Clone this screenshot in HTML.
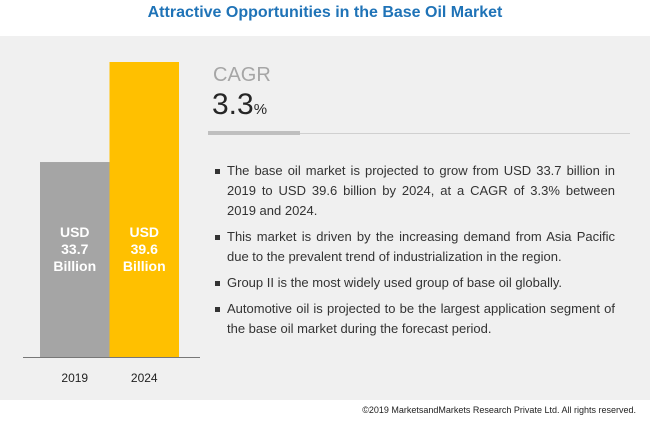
<!DOCTYPE html>
<html><head><meta charset="utf-8"><style>
body{margin:0;width:650px;height:435px;background:#fff;font-family:"Liberation Sans",sans-serif;position:relative;overflow:hidden}
.title{position:absolute;top:4px;left:0;width:650px;text-align:center;color:#1f73b7;font-weight:bold;font-size:16px}
.bg{position:absolute;top:36px;left:0;width:650px;height:364px;background:#f0f0f0}
.cagr{position:absolute;left:213px;top:64px;font-size:20px;color:#a6a6a6;font-family:"Liberation Sans Narrow","Liberation Sans",sans-serif}
.val{position:absolute;left:212px;top:88px;font-size:30px;color:#262626}
.val span{font-size:15px}
.line1{position:absolute;left:208px;top:131px;width:92px;height:4px;background:#bfbfbf}
.line2{position:absolute;left:300px;top:133px;width:330px;height:1px;background:#d0d0d0}
ul{position:absolute;left:213px;top:161px;width:402px;margin:0;padding:0;list-style:none;font-size:13px;color:#333;line-height:20px}
li{position:relative;padding-left:14px;text-align:justify;margin-bottom:6px}
li:before{content:"";position:absolute;left:2px;top:8px;width:5px;height:5px;background:#333}
.copy{position:absolute;right:14px;top:405px;font-size:9px;color:#222}
</style></head><body>
<div class="title">Attractive Opportunities in the Base Oil Market</div>
<div class="bg"></div>
<svg id="chart" width="210" height="400" style="position:absolute;left:0;top:0"></svg>
<div class="cagr">CAGR</div>
<div class="val">3.3<span>%</span></div>
<div class="line1"></div>
<div class="line2"></div>
<ul>
<li>The base oil market is projected to grow from USD 33.7 billion in 2019 to USD 39.6 billion by 2024, at a CAGR of 3.3% between 2019 and 2024.</li>
<li>This market is driven by the increasing demand from Asia Pacific due to the prevalent trend of industrialization in the region.</li>
<li>Group II is the most widely used group of base oil globally.</li>
<li>Automotive oil is projected to be the largest application segment of the base oil market during the forecast period.</li>
</ul>
<div class="copy">©2019 MarketsandMarkets Research Private Ltd. All rights reserved.</div>
<script>
const categories=["2019","2024"];
const values=[33.7,39.6];
const labels=["33.7","39.6"];
const colors=["#a5a5a5","#ffc000"];
const NS="http://www.w3.org/2000/svg";
const svg=document.getElementById("chart");
const base=357,yTop=62,vMin=22.2,vMax=39.6;
function y(v){return base-(v-vMin)/(vMax-vMin)*(base-yTop);}
function x(i){return 40+i*69.5;}
const bw=69.5;
function mk(t,a){const e=document.createElementNS(NS,t);for(const k in a)e.setAttribute(k,a[k]);svg.appendChild(e);return e;}
values.forEach((v,i)=>{
  const r=mk("rect",{x:x(i),y:y(v),width:bw,height:base-y(v),fill:colors[i]});
  
  
  ["USD",labels[i],"Billion"].forEach((s,j)=>{
    const t=mk("text",{x:x(i)+bw/2,y:237+j*17,"text-anchor":"middle","font-size":"14","font-weight":"bold",fill:"#fff","font-family":"Liberation Sans, sans-serif"});
    t.textContent=s;
    
    
  });
  const c=mk("text",{x:x(i)+bw/2,y:382,"text-anchor":"middle","font-size":"12",fill:"#222","font-family":"Liberation Sans, sans-serif"});
  c.textContent=categories[i];
  
  
});
const ax=mk("line",{x1:23,x2:200,y1:base+0.5,y2:base+0.5,stroke:"#777","stroke-width":1});


</script>
</body></html>
